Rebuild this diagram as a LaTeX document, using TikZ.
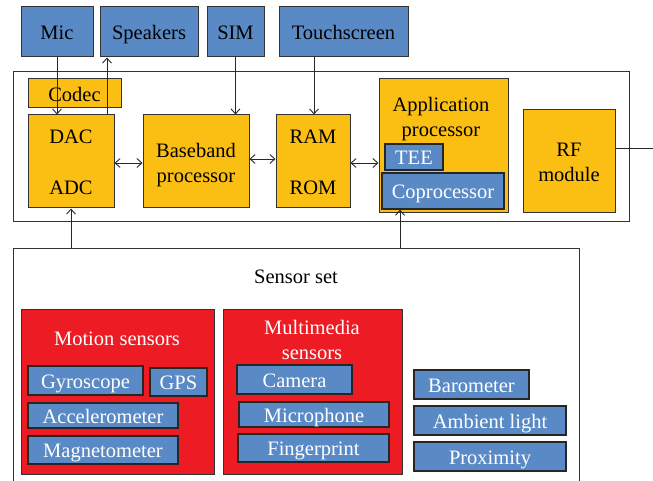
\documentclass[tikz,border=0pt]{standalone}
\usepackage{fontspec}
\setmainfont{Liberation Serif}
\usetikzlibrary{arrows.meta}

\definecolor{chipblue}{HTML}{5A8AC6}
\definecolor{chipgold}{HTML}{FBBE12}
\definecolor{chipred}{HTML}{ED1C24}
\definecolor{edge}{HTML}{333333}

\newcommand{\lblfont}{\fontsize{20.5}{25}\selectfont}

\tikzset{
  base/.style={draw=edge, line width=1pt, inner sep=0pt, align=center, font=\lblfont},
  one/.style={text height=19pt, text depth=3.5pt},
  bluebox/.style={base, one, fill=chipblue, text=black},
  bluewhite/.style={base, one, fill=chipblue, text=white, line width=1.3pt, draw=black!85},
  goldbox/.style={base, fill=chipgold, text=black},
  redbox/.style={base, fill=chipred, text=white},
  lbl/.style={font=\lblfont, align=center, inner sep=0pt},
  link/.style={draw=black!85, line width=0.9pt},
  arr/.style={link, -{Straight Barb[length=5pt,width=9pt]}},
  darr/.style={link, {Straight Barb[length=5pt,width=9pt]}-{Straight Barb[length=5pt,width=9pt]}},
}

% box given by its corners (x1,y1) and (x2,y2)
\newcommand{\cbox}[7]{%
  \node[#6, minimum width={#4-#2}, minimum height={#5-#3}]
    (#1) at ({(#2+#4)/2},{(#3+#5)/2}) {#7};}

\begin{document}
\begin{tikzpicture}[x=1pt, y=-1pt]
\useasboundingbox (0,0) rectangle (653,481);

% outer frames
\node[draw=edge, line width=1pt, minimum width=616, minimum height=150, inner sep=0]
  (phone) at (321,147) {};
\draw[draw=edge, line width=1pt] (13,482) -- (13,248) -- (579,248) -- (579,482);

% peripherals
\cbox{mic}{21}{7}{93}{57}{bluebox}{Mic}
\cbox{spk}{100}{7}{198}{57}{bluebox}{Speakers}
\cbox{sim}{207}{7}{264}{57}{bluebox}{SIM}
\cbox{ts}{279}{7}{408}{57}{bluebox}{Touchscreen}

% phone internals
\cbox{codec}{28}{79}{121}{108}{goldbox,one}{Codec}
\cbox{dac}{28}{115}{114}{208}{goldbox}{}
\node[lbl, one] (daclbl) at (71,136) {DAC};
\node[lbl, one] (adclbl) at (71,187) {ADC};
\cbox{bb}{143}{115}{249}{208}{goldbox}{}
\node[lbl] (bblbl) at (196,165) {Baseband\\processor};
\cbox{ram}{276}{115}{350}{208}{goldbox}{}
\node[lbl, one] (ramlbl) at (313,136) {RAM};
\node[lbl, one] (romlbl) at (313,187) {ROM};
\cbox{app}{379}{79}{508}{213}{goldbox}{}
\node[lbl] (applbl) at (441,119) {Application\\processor};
\cbox{tee}{385}{144}{443}{170}{bluewhite}{TEE}
\cbox{cop}{382}{173}{504}{209}{bluewhite}{Coprocessor}
\cbox{rf}{523}{110}{615}{213}{goldbox}{}
\node[lbl] (rflbl) at (569,162) {RF\\module};

% sensor set
\node[lbl, one] (sslbl) at (296,276) {Sensor set};
\cbox{motion}{21}{309}{214}{474}{redbox}{}
\node[lbl, one, text=white] (motionlbl) at (117,338) {Motion sensors};
\cbox{gyro}{28}{366}{143}{395}{bluewhite}{Gyroscope}
\cbox{gps}{150}{368}{207}{396}{bluewhite}{GPS}
\cbox{acc}{28}{403}{178}{428}{bluewhite}{Accelerometer}
\cbox{mag}{28}{436}{178}{464}{bluewhite}{Magnetometer}

\cbox{media}{223}{309}{402}{474}{redbox}{}
\node[lbl, text=white] (medialbl) at (312,340) {Multimedia\\sensors};
\cbox{cam}{237}{365}{352}{394}{bluewhite}{Camera}
\cbox{micro}{239}{402}{389}{427}{bluewhite}{Microphone}
\cbox{finger}{238}{434}{389}{462}{bluewhite}{Fingerprint}

\cbox{baro}{414}{370}{529}{399}{bluewhite}{Barometer}
\cbox{amb}{414}{406}{566}{435}{bluewhite}{Ambient light}
\cbox{prox}{414}{442}{566}{471}{bluewhite}{Proximity}

% connector anchors
\coordinate (spkfoot) at (107,115);
\coordinate (tsfoot) at (314,57);
\coordinate (dacin) at (71,248);
\coordinate (copin) at (400,248);
\coordinate (rfout) at (653,148);

% connectors
\draw[arr] (mic.south) -- (mic.south |- dac.north);
\draw[arr] (spkfoot) -- (spkfoot |- spk.south);
\draw[arr] (sim.south) -- (sim.south |- bb.north);
\draw[arr] (tsfoot) -- (tsfoot |- ram.north);
\draw[darr] (dac.east |- 0,163) -- (bb.west |- 0,163);
\draw[darr] (bb.east |- 0,159) -- (ram.west |- 0,159);
\draw[darr] (ram.east |- 0,163) -- (app.west |- 0,163);
\draw[arr] (dacin) -- (dacin |- dac.south);
\draw[arr] (copin) -- (copin |- cop.south);
\draw[link] (rfout -| rf.east) -- (rfout);
\end{tikzpicture}
\end{document}
